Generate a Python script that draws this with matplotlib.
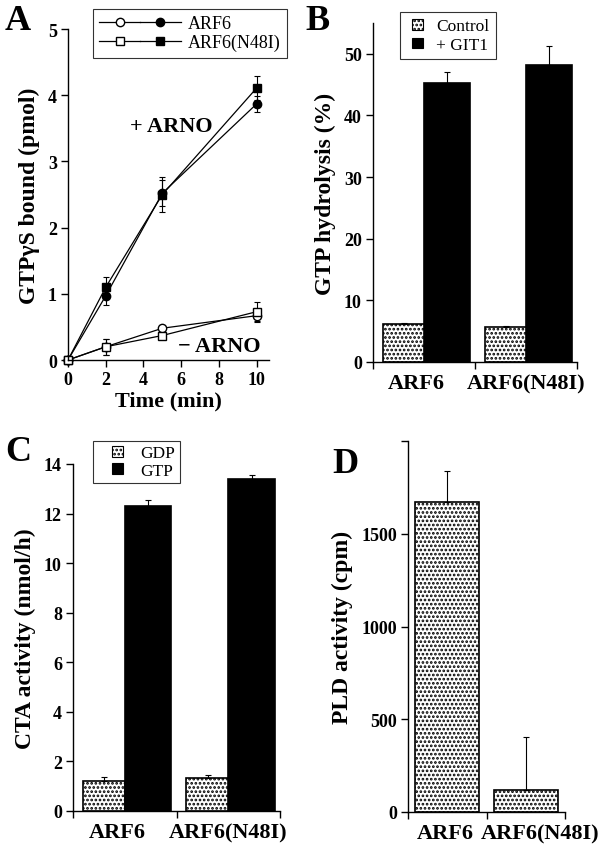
import matplotlib
matplotlib.use("Agg")
import matplotlib.pyplot as plt
from matplotlib.lines import Line2D
from matplotlib.patches import Patch, Rectangle
from matplotlib.legend_handler import HandlerTuple, HandlerPatch
import numpy as np

plt.rcParams['font.family'] = ['Liberation Serif', 'DejaVu Serif']
plt.rcParams['hatch.linewidth'] = 1.3
plt.rcParams['axes.linewidth'] = 1.0

# ---------------- Data ----------------
# Panel A
time_min = [0, 2, 5, 10]
arf6_plus = [0, 0.97, 2.52, 3.87]
arf6_plus_err = [0.02, 0.14, 0.20, 0.12]
n48i_plus = [0, 1.10, 2.50, 4.11]
n48i_plus_err = [0.02, 0.15, 0.27, 0.18]
arf6_minus = [0, 0.20, 0.48, 0.67]
arf6_minus_err = [0.02, 0.12, 0.05, 0.09]
n48i_minus = [0, 0.20, 0.37, 0.73]
n48i_minus_err = [0.02, 0.12, 0.04, 0.14]

categories = ["ARF6", "ARF6(N48I)"]

# Panel B
gap_control = [6.1, 5.7]
gap_control_err = [0.2, 0.2]
gap_git1 = [45.3, 48.2]
gap_git1_err = [1.7, 3.0]

# Panel C
cta_gdp = [1.21, 1.33]
cta_gdp_err = [0.17, 0.14]
cta_gtp = [12.29, 13.39]
cta_gtp_err = [0.27, 0.18]

# Panel D
pld = [1670, 120]
pld_err = [170, 287]

# ---------------- Figure ----------------
W, H = 605, 853
fig = plt.figure(figsize=(W / 100, H / 100), dpi=100)


def px_axes(x0, x1, y_top, y_bot):
    return fig.add_axes([x0 / W, 1 - y_bot / H, (x1 - x0) / W, (y_bot - y_top) / H])


TICK_FS = 13


def style(ax):
    for s in ("top", "right"):
        ax.spines[s].set_visible(False)
    ax.tick_params(axis="both", which="major", direction="out", length=5, width=1.0,
                   labelsize=TICK_FS, pad=3)
    for lab in ax.get_yticklabels() + ax.get_xticklabels():
        lab.set_fontweight("bold")


label_font = dict(fontsize=17, fontweight="bold")
cat_font = dict(fontsize=16, fontweight="bold")
letter_font = dict(fontsize=26, fontweight="bold")


class SquareHandler(HandlerPatch):
    """Small square legend key centred in the handle box."""

    def create_artists(self, legend, orig_handle, xdescent, ydescent, width, height,
                       fontsize, trans):
        s = 0.62 * fontsize
        x0 = -xdescent + (width - s) / 2
        y0 = -ydescent + (height - s) / 2
        p = Rectangle((x0, y0), s, s, facecolor=orig_handle.get_facecolor(),
                      edgecolor=orig_handle.get_edgecolor(),
                      hatch=orig_handle.get_hatch(), lw=0.8)
        p.set_transform(trans)
        return [p]


# ---------------- Panel A ----------------
axA = px_axes(68, 269, 30, 361)
lw = 0.9
ms = 6
ekw = dict(elinewidth=0.8, capsize=2, capthick=0.8, ecolor="black")
axA.errorbar(time_min, arf6_plus, yerr=arf6_plus_err, color="black", lw=lw,
             marker="o", ms=ms, mfc="black", mec="black", clip_on=False, **ekw)
axA.errorbar(time_min, n48i_plus, yerr=n48i_plus_err, color="black", lw=lw,
             marker="s", ms=ms, mfc="black", mec="black", clip_on=False, **ekw)
axA.errorbar(time_min, arf6_minus, yerr=arf6_minus_err, color="black", lw=lw,
             marker="o", ms=ms, mfc="white", mec="black", clip_on=False, **ekw)
axA.errorbar(time_min, n48i_minus, yerr=n48i_minus_err, color="black", lw=lw,
             marker="s", ms=ms, mfc="white", mec="black", clip_on=False, **ekw)
axA.set_xlim(0, 10.65)
axA.set_ylim(0, 5)
axA.set_xticks([0, 2, 4, 6, 8, 10])
axA.set_yticks([0, 1, 2, 3, 4, 5])
style(axA)
axA.set_xlabel("Time (min)", labelpad=2, **cat_font)
axA.set_ylabel("GTP\u03b3S bound (pmol)", labelpad=6, **label_font)
axA.text(5.5, 3.53, "+ ARNO", ha="center", va="center", fontsize=16, fontweight="bold")
axA.text(8.0, 0.21, "\u2212 ARNO", ha="center", va="center", fontsize=16, fontweight="bold")

h_arf6 = (Line2D([], [], color="black", lw=lw, marker="o", ms=ms, mfc="white", mec="black"),
          Line2D([], [], color="black", lw=lw, marker="o", ms=ms, mfc="black", mec="black"))
h_n48i = (Line2D([], [], color="black", lw=lw, marker="s", ms=ms, mfc="white", mec="black"),
          Line2D([], [], color="black", lw=lw, marker="s", ms=ms, mfc="black", mec="black"))
legA = fig.legend([h_arf6, h_n48i], categories, loc="upper left",
                  bbox_to_anchor=(93 / W, 1 - 10 / H),
                  handler_map={tuple: HandlerTuple(ndivide=None, pad=0)},
                  handlelength=4.5, fontsize=13, frameon=True, fancybox=False,
                  edgecolor="black", borderpad=0.35, labelspacing=0.1,
                  handletextpad=0.4, borderaxespad=0)
legA.get_frame().set_linewidth(0.8)

# ---------------- Bar helper ----------------
xc = np.array([0.5, 1.5])
off_l, off_r = -0.2, 0.225
w_l, w_r = 0.41, 0.45


def cat_axis(ax, label_pos):
    ax.set_xlim(0, 2)
    ax.set_xticks([0, 1, 2])
    ax.set_xticklabels([])
    ax.set_xticks(label_pos, minor=True)
    ax.set_xticklabels(categories, minor=True, **cat_font)
    ax.tick_params(axis="x", which="minor", length=0, pad=8)


ebar = dict(fmt="none", ecolor="black", elinewidth=0.8, capsize=2, capthick=0.8)
bar_lw = 1.2

# ---------------- Panel B ----------------
axB = px_axes(373, 577, 24, 363)
axB.bar(xc + off_l, gap_control, width=w_l, color="white", edgecolor="black",
        hatch="....", lw=bar_lw)
axB.bar(xc + off_r, gap_git1, width=w_r, color="black", edgecolor="black", lw=bar_lw)
axB.errorbar(xc + off_l, gap_control, yerr=[[0, 0], gap_control_err], **ebar)
axB.errorbar(xc + off_r, gap_git1, yerr=[[0, 0], gap_git1_err], **ebar)
axB.set_ylim(0, 55)
axB.set_yticks([0, 10, 20, 30, 40, 50])
cat_axis(axB, [0.42, 1.5])
style(axB)
axB.set_ylabel("GTP hydrolysis (%)", labelpad=6, **label_font)
legB = fig.legend([Patch(facecolor="white", edgecolor="black", hatch="...."),
                   Patch(facecolor="black", edgecolor="black")],
                  ["Control", "+ GIT1"], loc="upper left",
                  bbox_to_anchor=(400 / W, 1 - 13 / H), fontsize=12.5,
                  handler_map={Patch: SquareHandler()},
                  handlelength=1.3, handleheight=0.7, frameon=True, fancybox=False,
                  edgecolor="black", borderpad=0.35, labelspacing=0.15,
                  handletextpad=0.45, borderaxespad=0)
legB.get_frame().set_linewidth(0.8)

# ---------------- Panel C ----------------
axC = px_axes(73, 280, 465, 812)
axC.bar(xc + off_l, cta_gdp, width=w_l, color="white", edgecolor="black",
        hatch="....", lw=bar_lw)
axC.bar(xc + off_r, cta_gtp, width=w_r, color="black", edgecolor="black", lw=bar_lw)
axC.errorbar(xc + off_l, cta_gdp, yerr=[[0, 0], cta_gdp_err], **ebar)
axC.errorbar(xc + off_r, cta_gtp, yerr=[[0, 0], cta_gtp_err], **ebar)
axC.set_ylim(0, 14)
axC.set_yticks([0, 2, 4, 6, 8, 10, 12, 14])
cat_axis(axC, [0.43, 1.5])
style(axC)
axC.set_ylabel("CTA activity (nmol/h)", labelpad=6, **label_font)
legC = fig.legend([Patch(facecolor="white", edgecolor="black", hatch="...."),
                   Patch(facecolor="black", edgecolor="black")],
                  ["GDP", "GTP"], loc="upper left",
                  bbox_to_anchor=(93 / W, 1 - 442 / H), fontsize=12.5,
                  handler_map={Patch: SquareHandler()},
                  handlelength=2.3, handleheight=0.7, frameon=True, fancybox=False,
                  edgecolor="black", borderpad=0.25, labelspacing=0.05,
                  handletextpad=0.2, borderaxespad=0)
legC.get_frame().set_linewidth(0.8)

# ---------------- Panel D ----------------
axD = px_axes(408, 565, 442, 813)
axD.bar(xc, pld, width=0.81, color="white", edgecolor="black", hatch="....", lw=bar_lw)
axD.errorbar(xc, pld, yerr=[[0, 0], pld_err], **ebar)
axD.set_ylim(0, 2000)
axD.set_yticks([0, 500, 1000, 1500, 2000])
axD.set_yticklabels(["0", "500", "1000", "1500", ""])
cat_axis(axD, [0.47, 1.68])
style(axD)
axD.set_ylabel("PLD activity (cpm)", labelpad=6, **label_font)

# ---------------- Panel letters ----------------
fig.text(5 / W, 1 - 5 / H, "A", ha="left", va="top", **letter_font)
fig.text(305 / W, 1 - 5 / H, "B", ha="left", va="top", **letter_font)
fig.text(5 / W, 1 - 436 / H, "C", ha="left", va="top", **letter_font)
fig.text(332 / W, 1 - 448 / H, "D", ha="left", va="top", **letter_font)

fig.savefig("out.png", dpi=100)
